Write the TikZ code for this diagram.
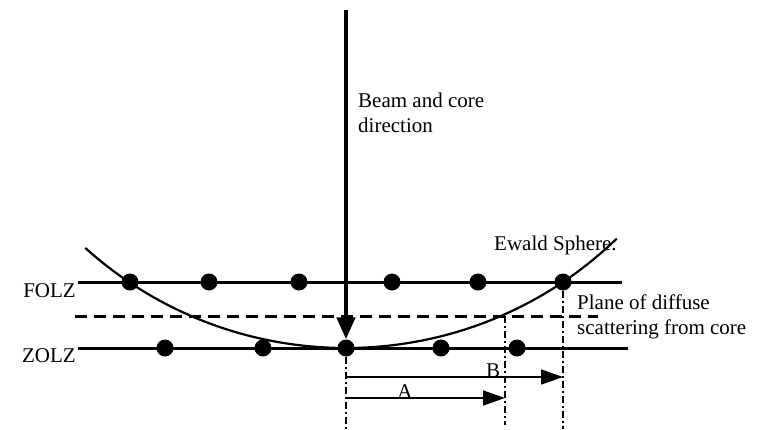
\documentclass[tikz,border=0pt]{standalone}
\usepackage{fontspec}
\setmainfont{Liberation Serif}
\usetikzlibrary{arrows.meta}

\begin{document}
\begin{tikzpicture}[x=1pt, y=-1pt, line join=miter,
  spot/.style={circle, fill, inner sep=0pt, minimum size=17pt},
  lattice/.style={line width=3pt},
  guide/.style={line width=1.5pt, dash pattern=on 7pt off 3pt on 2pt off 3pt},
  dimline/.style={line width=1.6pt, -{Triangle[length=22pt,width=15pt]}},
  label/.style={font=\fontsize{21}{25}\selectfont, inner sep=0pt}]
  \useasboundingbox (0,0) rectangle (772,429);

  % layer lines
  \coordinate (folzL) at (78,282);  \coordinate (folzR) at (622,282);
  \coordinate (zolzL) at (78,348);  \coordinate (zolzR) at (628,348);
  \coordinate (planeL) at (75,316); \coordinate (planeR) at (598,316);
  \draw[lattice] (folzL) -- (folzR);
  \draw[lattice] (zolzL) -- (zolzR);
  \draw[lattice, dash pattern=on 12pt off 7pt] (planeL) -- (planeR);

  % reflections
  \foreach \x [count=\i] in {130,209,299,392,478,563}
    \node[spot] (f\i) at (\x,282) {};
  \foreach \x [count=\i] in {165,263,346,441,517}
    \node[spot] (z\i) at (\x,348) {};

  % Ewald sphere
  \coordinate (ctr) at (346,-41.7);
  \draw[line width=2.2pt] (ctr) ++(132:389.7) arc[start angle=132, end angle=46, radius=389.7];

  % beam
  \coordinate (beamtop) at (346,10);
  \draw[line width=4.5pt, -{Triangle[length=22pt,width=18pt]}] (beamtop) -- (z3.north);

  % guides down to the distances
  \coordinate (cut) at (505,316);
  \coordinate (g1) at (346,429); \coordinate (g2) at (505,425); \coordinate (g3) at (563,429);
  \draw[guide] (z3.south) -- (g1);
  \draw[guide] (cut) -- (g2);
  \draw[guide] (f6.south) -- (g3);

  % distances A and B
  \coordinate (b0) at (346,377); \coordinate (b1) at (563,377);
  \coordinate (a0) at (346,398); \coordinate (a1) at (505,398);
  \draw[dimline] (b0) -- (b1);
  \draw[dimline] (a0) -- (a1);
  \node[label] (lblB) at (493,371) {B};
  \node[label] (lblA) at (405,392) {A};

  % texts
  \node[label, anchor=base east] (folz) at (76,297) {FOLZ};
  \node[label, anchor=base east] (zolz) at (76,362) {ZOLZ};
  \node[label, anchor=base west, align=left] (beamtxt) at (358,132) {Beam and core\\direction};
  \node[label, anchor=base west] (ewald) at (494,250) {Ewald Sphere.};
  \node[label, anchor=base west, align=left] (plane) at (577,334) {Plane of diffuse\\scattering from core};
\end{tikzpicture}
\end{document}
